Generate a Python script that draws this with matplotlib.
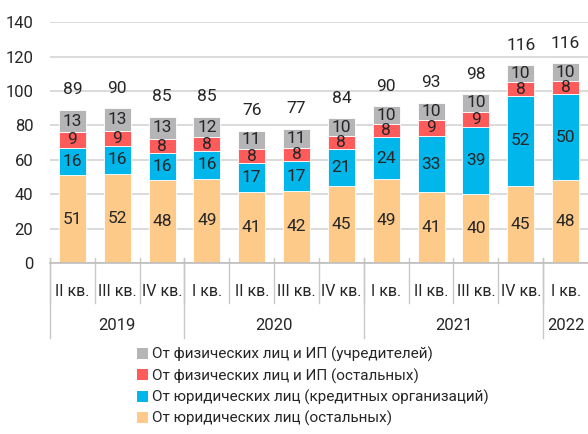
import matplotlib.pyplot as plt
import matplotlib.transforms as mtransforms
from matplotlib.patches import Patch

plt.rcParams['font.family'] = ['Roboto', 'DejaVu Sans']

# Data
quarters = ['II кв.', 'III кв.', 'IV кв.', 'I кв.', 'II кв.', 'III кв.', 'IV кв.',
            'I кв.', 'II кв.', 'III кв.', 'IV кв.', 'I кв.']
years = ['2019', '2020', '2021', '2022']
year_counts = [3, 4, 4, 1]

legal_other = [51, 52, 48, 49, 41, 42, 45, 49, 41, 40, 45, 48]
legal_credit = [16, 16, 16, 16, 17, 17, 21, 24, 33, 39, 52, 50]
phys_other = [9, 9, 8, 8, 8, 8, 8, 8, 9, 9, 8, 8]
phys_founders = [13, 13, 13, 12, 11, 11, 10, 10, 10, 10, 10, 10]
totals = [89, 90, 85, 85, 76, 77, 84, 90, 93, 98, 116, 116]

series = [legal_other, legal_credit, phys_other, phys_founders]
names = ['От юридических лиц (остальных)',
         'От юридических лиц (кредитных организаций)',
         'От физических лиц и ИП (остальных)',
         'От физических лиц и ИП (учредителей)']
colors = ['#fdca89', '#00b6eb', '#ff5b5b', '#b5b5b7']
txt = '#262626'

fig = plt.figure(figsize=(5.88, 4.34), dpi=100)
ax = fig.add_axes([0.085, 0.394, 0.915, 0.555])

x = list(range(len(quarters)))
bottom = [0] * len(x)
for vals, col in zip(series, colors):
    ax.bar(x, vals, bottom=bottom, width=0.6, color=col, edgecolor='white', linewidth=0.6, zorder=2)
    for i, v in enumerate(vals):
        ax.text(i, bottom[i] + v / 2, str(v), ha='center', va='center', fontsize=12.5, color=txt, zorder=3)
    bottom = [b + v for b, v in zip(bottom, vals)]

for i, t in enumerate(totals):
    ax.annotate(str(t), (i, bottom[i]), xytext=(0, 9), textcoords='offset points',
                ha='center', va='bottom', fontsize=12.5, color=txt)

ax.set_xlim(-0.5, len(x) - 0.5)
ax.set_ylim(0, 140)
ax.set_yticks(range(0, 141, 20))
ax.yaxis.grid(True, color='#d4d4d4', linewidth=1.2, zorder=0)
ax.set_axisbelow(True)
for s in ['top', 'right', 'left']:
    ax.spines[s].set_visible(False)
ax.spines['bottom'].set_color('#bdbdbd')
ax.spines['bottom'].set_linewidth(1.2)
ax.tick_params(axis='y', length=0, pad=12, labelsize=12, labelcolor=txt)
ax.set_xticks([])

# Category axis: quarters and years
trans = mtransforms.blended_transform_factory(ax.transData, ax.transAxes)
for i, q in enumerate(quarters):
    ax.text(i, -0.12, q, transform=trans, ha='center', va='center', fontsize=11.5, color=txt)
    ax.plot([i - 0.5, i - 0.5], [0.02, -0.165], transform=trans, color='#c8c8c8', lw=1, clip_on=False)

start = 0
for y, n in zip(years, year_counts):
    ax.text(start + (n - 1) / 2, -0.26, y, transform=trans, ha='center', va='center', fontsize=12, color=txt)
    ax.plot([start - 0.5, start - 0.5], [0.02, -0.31], transform=trans, color='#c8c8c8', lw=1, clip_on=False)
    start += n

handles = [Patch(facecolor=c) for c in colors][::-1]
fig.legend(handles, names[::-1], loc='upper left', bbox_to_anchor=(0.222, 0.215),
           frameon=False, fontsize=11, handlelength=0.75, handleheight=0.75,
           handletextpad=0.25, labelspacing=0.4, borderaxespad=0, labelcolor=txt)

fig.savefig('out.png', dpi=100)
